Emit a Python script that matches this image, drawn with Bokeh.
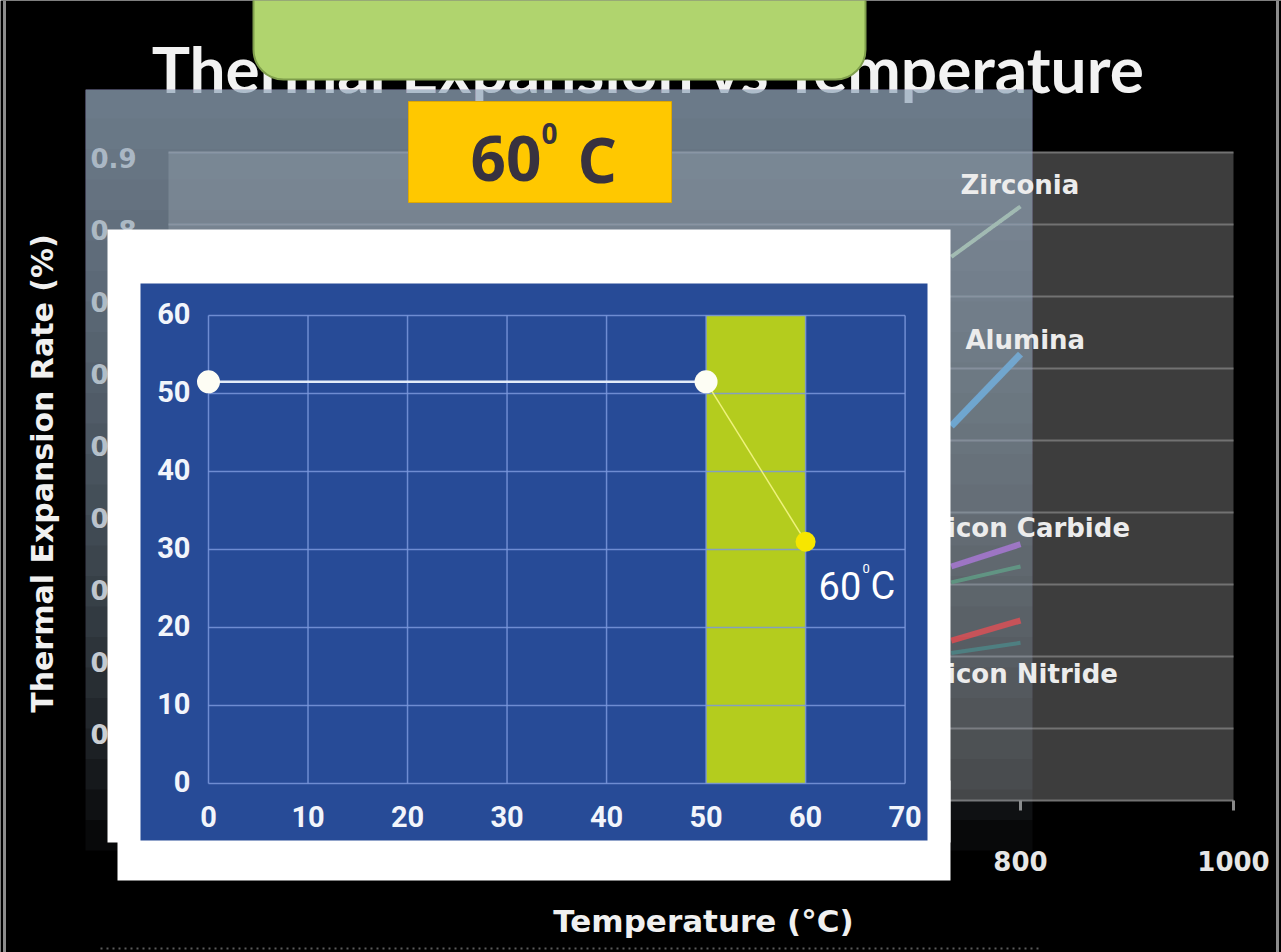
import numpy as np
from bokeh.plotting import figure
from bokeh.models import Range1d
from bokeh.core.properties import value
from bokeh.embed import file_html
from bokeh.resources import INLINE

# ---------------- data ----------------
# foreground chart: temperature (°C) vs value
temps = [0, 50, 60]
rates = [51.5, 51.5, 31]
band_temps = [50, 60]
x_ticks = [0, 10, 20, 30, 40, 50, 60, 70]
y_ticks = [0, 10, 20, 30, 40, 50, 60]
callout_temp = 60

# background chart: thermal expansion rate (%) vs temperature (°C)
bg_temp_ticks = [0, 200, 400, 600, 800, 1000]
bg_rate_ticks = [0.0, 0.1, 0.2, 0.3, 0.4, 0.5, 0.6, 0.7, 0.8, 0.9]
bg_temps = [735, 800]
zirconia = [0.755, 0.825]
alumina = [0.52, 0.62]
silicon_carbide = [0.325, 0.356]
silicon_carbide_b = [0.303, 0.325]
silicon_nitride = [0.222, 0.25]
silicon_nitride_b = [0.205, 0.219]
bg_labels = ["Zirconia", "Alumina", "Silicon Carbide", "Silicon Nitride"]
bg_label_rates = [0.855, 0.64, 0.378, 0.176]

# ---------------- page geometry ----------------
W, H = 1281, 952
# foreground plot area (pixels)
FX0, FX1 = 208.0, 904.6
FY0, FY1 = 783.0, 315.0
fsx = (FX1 - FX0) / (x_ticks[-1] - x_ticks[0])
fsy = (FY0 - FY1) / (y_ticks[-1] - y_ticks[0])
# background plot area (pixels)
BX0, BX1 = 168.0, 1233.0
BY0, BY1 = 800.0, 152.0
bsx = (BX1 - BX0) / (bg_temp_ticks[-1] - bg_temp_ticks[0])
bsy = (BY0 - BY1) / (bg_rate_ticks[-1] - bg_rate_ticks[0])

p = figure(
    width=W, height=H,
    x_range=Range1d(x_ticks[0] - FX0 / fsx, x_ticks[0] + (W - FX0) / fsx),
    y_range=Range1d(y_ticks[0] + (FY0 - H) / fsy, y_ticks[0] + FY0 / fsy),
    output_backend="svg", toolbar_location=None,
    x_axis_location=None, y_axis_location=None,
    min_border=0, background_fill_color="black", border_fill_color="black",
    outline_line_color=None,
)
p.grid.grid_line_color = None
p.extra_x_ranges = {
    "px": Range1d(0, W),
    "bg": Range1d(bg_temp_ticks[0] - BX0 / bsx, bg_temp_ticks[0] + (W - BX0) / bsx),
}
p.extra_y_ranges = {
    "px": Range1d(H, 0),
    "bg": Range1d(bg_rate_ticks[0] + (BY0 - H) / bsy, bg_rate_ticks[0] + BY0 / bsy),
}
PX = dict(x_range_name="px", y_range_name="px")
BG = dict(x_range_name="bg", y_range_name="bg")


def box(l, r, t, b, color, alpha=1.0, **kw):
    p.quad(left=[l], right=[r], top=[t], bottom=[b], fill_color=color,
           fill_alpha=alpha, line_color=kw.pop("line_color", None), **PX, **kw)


def label(x, y, s, size, color, font="DejaVu Sans", style="bold",
          align="left", baseline="middle", angle=0.0, ranges=PX, **kw):
    p.text(x=[x], y=[y], text=[s], text_font=value(font), text_font_size=size,
           text_font_style=style, text_color=color, text_align=align,
           text_baseline=baseline, angle=angle, **ranges, **kw)


# ---------------- slide backdrop ----------------
label(649, 68, "Thermal Expansion vs Temperature", "64px", "#f2f2f2",
      font="Lato", align="center")
p.quad(left=[253], right=[865], top=[-40], bottom=[79], fill_color="#b0d46e",
       line_color="#7f9e4c", line_width=2, border_radius=30, **PX)

# background chart frame and grid
p.quad(left=[bg_temp_ticks[0]], right=[bg_temp_ticks[-1]],
       top=[bg_rate_ticks[-1]], bottom=[bg_rate_ticks[0]],
       fill_color="#3d3d3d", line_color=None, **BG)
p.segment(x0=[bg_temp_ticks[0]] * len(bg_rate_ticks), y0=bg_rate_ticks,
          x1=[bg_temp_ticks[-1]] * len(bg_rate_ticks), y1=bg_rate_ticks,
          line_color="#727272", line_width=2, **BG)
tick_len = 10 / bsy
p.segment(x0=bg_temp_ticks, y0=[bg_rate_ticks[0]] * len(bg_temp_ticks),
          x1=bg_temp_ticks, y1=[bg_rate_ticks[0] - tick_len] * len(bg_temp_ticks),
          line_color="#8a8a8a", line_width=3, **BG)
p.text(x=[bg_temp_ticks[0]] * len(bg_rate_ticks), y=bg_rate_ticks,
       text=["0" if r == 0 else f"{r:.1f}" for r in bg_rate_ticks],
       text_font=value("DejaVu Sans"), text_font_size="26px",
       text_font_style="bold", text_color="#d8d8d8", text_align="right",
       text_baseline="middle", x_offset=-32, y_offset=5, **BG)
p.text(x=bg_temp_ticks, y=[bg_rate_ticks[0]] * len(bg_temp_ticks),
       text=[str(t) for t in bg_temp_ticks],
       text_font=value("DejaVu Sans"), text_font_size="26px",
       text_font_style="bold", text_color="#e6e6e6", text_align="center",
       text_baseline="middle", y_offset=60, **BG)

# background series
for vals, col, lw in [(zirconia, "#bcdca6", 4), (alumina, "#45a6e4", 7),
                      (silicon_carbide_b, "#3f8a5e", 4), (silicon_carbide, "#9d52cc", 6),
                      (silicon_nitride_b, "#2f6e68", 4), (silicon_nitride, "#e02626", 6)]:
    p.line(x=bg_temps, y=vals, line_color=col, line_width=lw, **BG)

# translucent overlay panel, fading downward: stacked layers sharing the top edge
n_layers = 25
bottoms = np.linspace(850, 118, n_layers)
p.quad(left=[85] * n_layers, right=[1032] * n_layers, top=[89] * n_layers,
       bottom=bottoms, fill_color="#a4b8cc", fill_alpha=0.051,
       line_color=None, **PX)

# series names
name_px = [60, 55, 110, 110]
p.text(x=[bg_temps[-1] - d / bsx for d in name_px],
       y=bg_label_rates, text=bg_labels,
       text_font=value("DejaVu Sans"), text_font_size="26px",
       text_font_style="bold", text_color="#ececec", text_align="left",
       text_baseline="middle", **BG)

# axis titles of the background chart
label(42, 473, "Thermal Expansion Rate (%)", "30px", "#f0f0f0",
      align="center", angle=np.pi / 2)
label(703, 920, "Temperature (°C)", "31px", "#f0f0f0", align="center")

# frame lines and dotted rule
p.segment(x0=[4, 1277], y0=[0, 0], x1=[4, 1277], y1=[H, H],
          line_color="#8c8c8c", line_width=3, **PX)
p.segment(x0=[100], y0=[948], x1=[1040], y1=[948], line_color="#5a5a5a",
          line_width=2, line_dash="2 4", **PX)

# yellow callout box
box(408, 671, 101, 202, "#ffc800", line_color="#e0a800")
label(470, 158, "60", "62px", "#38323f", font="Open Sans")
label(541, 133, "0", "28px", "#38323f", font="Open Sans")
label(577, 158, "C", "62px", "#38323f", font="Open Sans")

# white card
box(107, 950, 229, 842, "white")
box(117, 950, 780, 880, "white")
box(140, 927, 283, 840, "#274b97")

# ---------------- foreground chart ----------------
p.quad(left=[band_temps[0]], right=[band_temps[1]], top=[y_ticks[-1]],
       bottom=[y_ticks[0]], fill_color="#b4cc1e", line_color=None)
p.segment(x0=x_ticks, y0=[y_ticks[0]] * len(x_ticks), x1=x_ticks,
          y1=[y_ticks[-1]] * len(x_ticks), line_color="#7b98dc",
          line_width=1.5, line_alpha=0.85)
p.segment(x0=[x_ticks[0]] * len(y_ticks), y0=y_ticks, x1=[x_ticks[-1]] * len(y_ticks),
          y1=y_ticks, line_color="#7b98dc", line_width=1.5, line_alpha=0.85)

p.text(x=[x_ticks[0]] * len(y_ticks), y=y_ticks, text=[str(v) for v in y_ticks],
       text_font=value("Roboto"), text_font_size="29px",
       text_font_style="bold", text_color="#f2f5fb", text_align="right",
       text_baseline="middle", x_offset=-18, y_offset=-2)
p.text(x=x_ticks, y=[y_ticks[0]] * len(x_ticks), text=[str(v) for v in x_ticks],
       text_font=value("Roboto"), text_font_size="29px",
       text_font_style="bold", text_color="#f2f5fb", text_align="center",
       text_baseline="middle", y_offset=33)

# data line: flat segment then the drop
p.line(x=temps[:2], y=rates[:2], line_color="#e4ecf8", line_width=2.5)
p.line(x=temps[1:], y=rates[1:], line_color="#eef27c", line_width=1.5)
p.scatter(x=temps[:2], y=rates[:2], size=23, fill_color="#fdfdf4",
          line_color=None)
p.scatter(x=temps[2:], y=rates[2:], size=20, fill_color="#f7e600",
          line_color=None)

# callout label at the last point
i = temps.index(callout_temp)
common = dict(text_font=value("Roboto"), text_color="white",
              text_baseline="middle", text_align="left")
p.text(x=[temps[i]], y=[rates[i]], text=[str(callout_temp)], text_font_size="38px",
       x_offset=13, y_offset=44, **common)
p.text(x=[temps[i]], y=[rates[i]], text=["0"], text_font_size="13px",
       x_offset=57, y_offset=27, **common)
p.text(x=[temps[i]], y=[rates[i]], text=["C"], text_font_size="38px",
       x_offset=65, y_offset=44, **common)

open("out.html", "w").write(file_html(p, INLINE))
